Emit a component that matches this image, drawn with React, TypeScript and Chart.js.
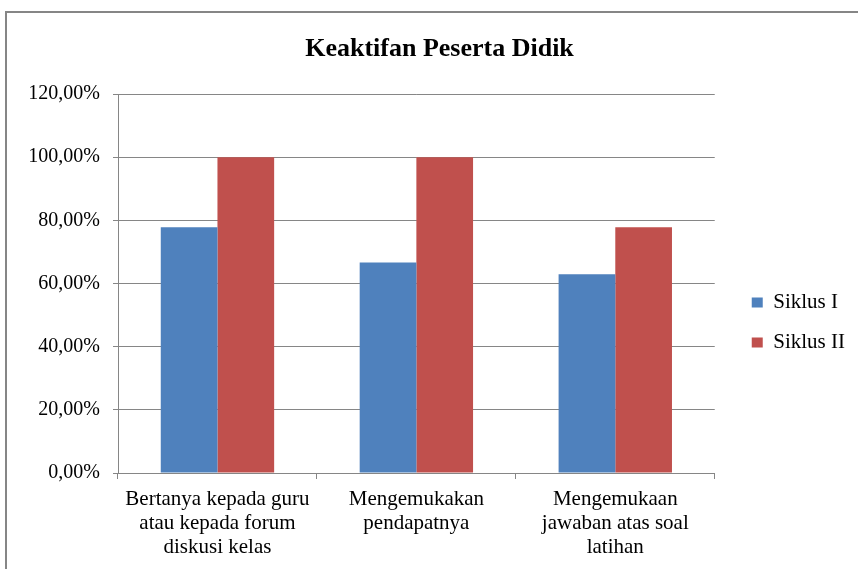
import React, { useEffect, useRef } from 'react';
import { Chart, registerables } from 'chart.js';

Chart.register(...registerables);

const chartTitle = 'Keaktifan Peserta Didik';
const categories: string[][] = [
  ['Bertanya kepada guru', 'atau kepada forum', 'diskusi kelas'],
  ['Mengemukakan', 'pendapatnya'],
  ['Mengemukaan', 'jawaban atas soal', 'latihan'],
];
const seriesNames = ['Siklus I', 'Siklus II'];
const siklusI = [77.78, 66.67, 62.96];
const siklusII = [100, 100, 77.78];
const yTickMin = 0;
const yTickMax = 120;
const yTickStep = 20;

const FONT = "'Liberation Serif', 'Times New Roman', serif";
const GRID = '#868686';

const shiftBoxes = {
  id: 'shiftBoxes',
  afterLayout(chart: any) {
    const l = chart.legend;
    if (l) {
      const dx = 18;
      const dy = 38;
      l.left += dx;
      l.right += dx;
      l.top += dy;
      l.bottom += dy;
    }
    const t = chart.titleBlock;
    if (t) {
      const tx = 21;
      t.left += tx;
      t.right += tx;
    }
  },
};

export default function App() {
  const ref = useRef<HTMLCanvasElement | null>(null);

  useEffect(() => {
    if (!ref.current) return;
    const chart = new Chart(ref.current, {
      type: 'bar',
      data: {
        labels: categories,
        datasets: [
          {
            label: seriesNames[0],
            data: siklusI,
            backgroundColor: '#4F81BD',
            borderWidth: 0,
            categoryPercentage: 0.57,
            barPercentage: 1,
          },
          {
            label: seriesNames[1],
            data: siklusII,
            backgroundColor: '#C0504D',
            borderWidth: 0,
            categoryPercentage: 0.57,
            barPercentage: 1,
          },
        ],
      },
      options: {
        responsive: false,
        animation: false,
        layout: { padding: { left: 0, right: 21, top: 0, bottom: 0 } },
        plugins: {
          tooltip: { enabled: false },
          title: {
            display: true,
            text: chartTitle,
            color: '#000',
            font: { family: FONT, size: 26, weight: 'bold', lineHeight: 1.2 },
            padding: { top: 34, bottom: 28.8 },
          },
          legend: {
            display: true,
            position: 'right',
            align: 'center',
            labels: {
              color: '#000',
              font: { family: FONT, size: 21 },
              boxWidth: 11,
              boxHeight: 10,
              padding: 19,
            },
          },
        },
        scales: {
          x: {
            grid: {
              display: true,
              drawOnChartArea: false,
              drawTicks: true,
              tickLength: 6,
              color: GRID,
              offset: true,
            },
            border: { display: true, color: GRID, width: 1 },
            ticks: {
              color: '#000',
              font: { family: FONT, size: 21, lineHeight: 1.15 },
              padding: 8,
              maxRotation: 0,
              autoSkip: false,
            },
            afterFit(scale: any) {
              scale.height = 96;
            },
          },
          y: {
            min: yTickMin,
            max: yTickMax,
            grid: {
              color: GRID,
              lineWidth: 1,
              drawTicks: true,
              tickLength: 5,
            },
            border: { display: true, color: GRID, width: 1 },
            ticks: {
              stepSize: yTickStep,
              color: '#000',
              font: { family: FONT, size: 20 },
              padding: 13,
              callback: (v: any) => Number(v).toFixed(2).replace('.', ',') + '%',
            },
            afterFit(scale: any) {
              scale.width = 118;
            },
          },
        },
      },
      plugins: [shiftBoxes],
    } as any);
    return () => chart.destroy();
  }, []);

  return (
    <div style={{ position: 'fixed', left: 0, top: 0, width: 858, height: 569, background: '#fff' }}>
      <div
        style={{
          position: 'absolute',
          left: 5,
          top: 11,
          width: 900,
          height: 600,
          border: `2px solid ${GRID}`,
          boxSizing: 'border-box',
          pointerEvents: 'none',
        }}
      />
      <canvas ref={ref} width={858} height={569} style={{ position: 'absolute', left: 0, top: 0, width: 858, height: 569 }} />
    </div>
  );
}
